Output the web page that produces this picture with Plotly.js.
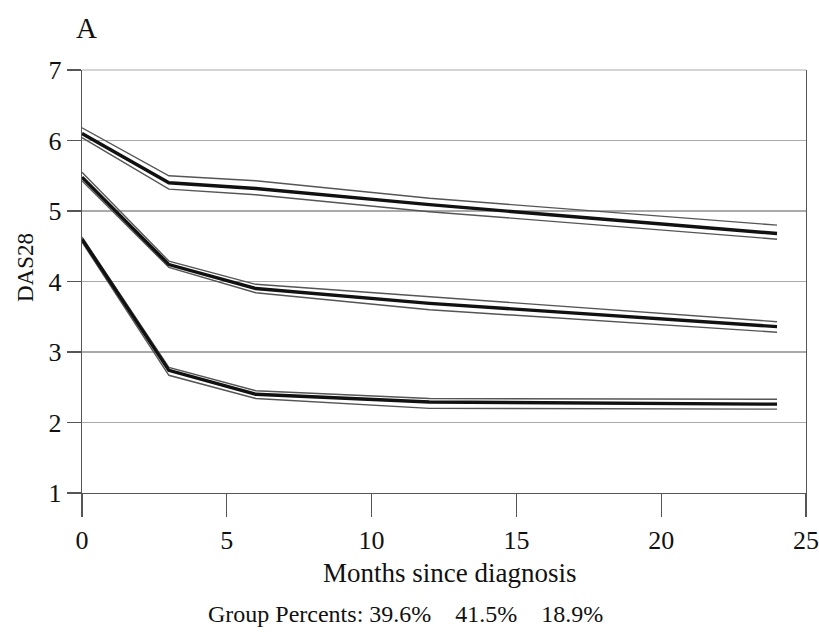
<!DOCTYPE html>
<html>
<head>
<meta charset="utf-8">
<script src="https://cdn.plot.ly/plotly-3.0.1.min.js"></script>
<style>html,body{margin:0;padding:0;background:#fff;}#chart{width:819px;height:634px;}</style>
</head>
<body>
<div id="chart"></div>
<script>
const months = [0, 3, 6, 12, 24];

const g1Mean  = [6.10, 5.40, 5.32, 5.09, 4.68];
const g1Upper = [6.18, 5.50, 5.43, 5.18, 4.80];
const g1Lower = [6.04, 5.31, 5.23, 4.99, 4.60];

const g2Mean  = [5.48, 4.24, 3.90, 3.69, 3.36];
const g2Upper = [5.55, 4.29, 3.96, 3.78, 3.43];
const g2Lower = [5.43, 4.20, 3.84, 3.60, 3.28];

const g3Mean  = [4.60, 2.74, 2.40, 2.29, 2.26];
const g3Upper = [4.63, 2.78, 2.45, 2.34, 2.33];
const g3Lower = [4.56, 2.67, 2.34, 2.20, 2.19];

const xTicks = [0, 5, 10, 15, 20, 25];
const yTicks = [1, 2, 3, 4, 5, 6, 7];
const panelLabel = "A";
const xTitle = "Months since diagnosis";
const yTitle = "DAS28";
const percentsLabel = "Group Percents: 39.6%&nbsp;&nbsp;&nbsp;&nbsp;41.5%&nbsp;&nbsp;&nbsp;&nbsp;18.9%";

const font = "Liberation Serif, Times New Roman, serif";

function ci(y) { return {x: months, y: y, mode: 'lines', line: {color: '#555', width: 1.4}, hoverinfo: 'skip', showlegend: false}; }
function mean(y) { return {x: months, y: y, mode: 'lines', line: {color: '#111', width: 3.4}, showlegend: false}; }

const data = [
  ci(g1Upper), ci(g1Lower), mean(g1Mean),
  ci(g2Upper), ci(g2Lower), mean(g2Mean),
  ci(g3Upper), ci(g3Lower), mean(g3Mean)
];

// plot area: x 82..806 px, y 70..493 px
const W = 819, H = 634, L = 82, R = 13, T = 70, B = 141;
const pw = W - L - R, ph = H - T - B;
const px = v => (v - L) / pw;
const py = v => (H - B - v) / ph;

const layout = {
  width: W, height: H,
  margin: {l: L, r: R, t: T, b: B},
  paper_bgcolor: '#fff', plot_bgcolor: '#fff',
  font: {family: font, color: '#111', size: 20},
  xaxis: {
    range: [0, 25], tickvals: xTicks, ticktext: xTicks.map(String),
    showgrid: false, zeroline: false,
    showline: true, linecolor: '#555', linewidth: 1.3,
    ticks: 'outside', ticklen: 23, tickcolor: '#555', tickwidth: 1.3,
    tickfont: {family: font, size: 26, color: '#111'}
  },
  yaxis: {
    range: [1, 7], tickvals: yTicks, ticktext: yTicks.map(String),
    showgrid: true, gridcolor: '#aaa', gridwidth: 1.2,
    zeroline: false,
    showline: true, linecolor: '#555', linewidth: 1.3, mirror: true,
    ticks: 'outside', ticklen: 14, tickcolor: '#555', tickwidth: 1.3,
    tickfont: {family: font, size: 26, color: '#111'}
  },
  shapes: [
    {type: 'line', xref: 'paper', yref: 'paper', x0: 0, x1: 1, y0: 1, y1: 1, line: {color: '#aaa', width: 1.2}}
  ],
  annotations: [
    {text: panelLabel, xref: 'paper', yref: 'paper', x: px(86), y: py(28),
     xanchor: 'center', yanchor: 'middle', showarrow: false, font: {family: font, size: 29, color: '#111'}},
    {text: xTitle, xref: 'paper', yref: 'paper', x: px(450), y: py(573),
     xanchor: 'center', yanchor: 'middle', showarrow: false, font: {family: font, size: 27, color: '#111'}},
    {text: yTitle, xref: 'paper', yref: 'paper', x: px(25), y: py(268), textangle: -90,
     xanchor: 'center', yanchor: 'middle', showarrow: false, font: {family: font, size: 23, color: '#111'}},
    {text: percentsLabel, xref: 'paper', yref: 'paper', x: px(405), y: py(614),
     xanchor: 'center', yanchor: 'middle', showarrow: false, font: {family: font, size: 24, color: '#111'}}
  ]
};

Plotly.newPlot('chart', data, layout, {displayModeBar: false, staticPlot: true});
</script>
</body>
</html>
